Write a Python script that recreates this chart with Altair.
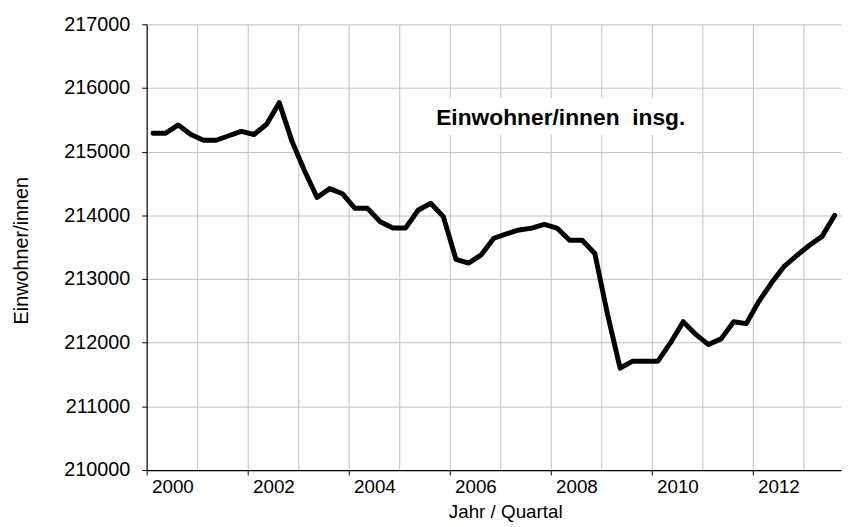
import altair as alt
import pandas as pd

# ---- data ----
n_quarters = 55  # 2000 Q1 .. 2013 Q3
years = [2000 + i // 4 for i in range(n_quarters)]
quarters = [i % 4 + 1 for i in range(n_quarters)]
einwohner = [
    215290, 215290, 215420, 215270, 215180, 215180, 215250, 215320,
    215270, 215430, 215770, 215170, 214700, 214280, 214420, 214340,
    214110, 214110, 213900, 213800, 213800, 214080, 214190, 213980,
    213310, 213250, 213380, 213640, 213710, 213770, 213800, 213860,
    213800, 213610, 213610, 213400, 212450, 211600, 211710, 211710,
    211710, 212000, 212330, 212130, 211970, 212060, 212330, 212300,
    212650, 212940, 213200, 213370, 213530, 213670, 214000,
]
y_ticks = [210000, 211000, 212000, 213000, 214000, 215000, 216000, 217000]
label_years = [2000, 2002, 2004, 2006, 2008, 2010, 2012]
grid_years = list(range(2001, 2014))

annotation_text = ["Einwohner/innen\u00a0 insg."]
annotation_pos = [32.8]        # in quarter units
annotation_val = [215530]
box_x = [22.3, 43.3]
box_y = [215263, 215843]

df = pd.DataFrame({"Jahr": years, "Quartal": quarters, "Einwohner": einwohner})
df["pos"] = (df["Jahr"] - 2000) * 4 + df["Quartal"] - 0.5

ann = pd.DataFrame({"text": annotation_text, "pos": annotation_pos, "val": annotation_val})
box = pd.DataFrame({"x0": [box_x[0]], "x1": [box_x[1]], "y0": [box_y[0]], "y1": [box_y[1]]})

FONT = "Liberation Sans"
xs = alt.Scale(domain=[0, n_quarters], nice=False, zero=False)
ys = alt.Scale(domain=[y_ticks[0], y_ticks[-1]], nice=False, zero=False)

grid_layer = alt.Chart(box).mark_rect(color="white").encode(
    x=alt.X("x0:Q", scale=xs, axis=alt.Axis(
        orient="bottom", values=[(y - 2000) * 4 for y in grid_years],
        grid=True, gridColor="#c0c0c0", gridWidth=1,
        labels=False, ticks=False, domain=False, title=None)),
    x2="x1:Q",
    y=alt.Y("y0:Q", scale=ys, axis=None),
    y2="y1:Q",
)

text_layer = alt.Chart(ann).mark_text(
    font=FONT, fontSize=23, fontWeight="bold", color="black",
    align="center", baseline="middle",
).encode(
    x=alt.X("pos:Q", scale=xs, axis=None),
    y=alt.Y("val:Q", scale=ys, axis=None),
    text="text:N",
)

line_layer = alt.Chart(df).mark_line(
    color="black", strokeWidth=5, strokeJoin="round", strokeCap="round"
).encode(
    x=alt.X("pos:Q", scale=xs, axis=alt.Axis(
        orient="bottom", values=[(y - 2000) * 4 for y in label_years],
        labelExpr="'' + (2000 + datum.value / 4)",
        grid=False, ticks=True, tickSize=5, tickColor="black", tickWidth=1,
        domain=True, domainColor="black", domainWidth=1.2,
        labelFont=FONT, labelFontSize=19, labelColor="black",
        labelAlign="center", labelOffset=26, labelPadding=3,
        title="Jahr / Quartal", titleFont=FONT, titleFontSize=19,
        titleFontWeight="normal", titleColor="black",
        titleX=362, titleY=42, titleAlign="center", titleBaseline="middle")),
    y=alt.Y("Einwohner:Q", scale=ys, axis=alt.Axis(
        orient="left", values=y_ticks, format="d",
        grid=True, gridColor="#c0c0c0", gridWidth=1,
        ticks=True, tickSize=5, tickColor="black", tickWidth=1,
        domain=True, domainColor="black", domainWidth=1.2,
        labelFont=FONT, labelFontSize=20, labelColor="black", labelPadding=12,
        title="Einwohner/innen", titleFont=FONT, titleFontSize=20,
        titleFontWeight="normal", titleColor="black",
        titleAngle=270, titleX=-126, titleY=228,
        titleAlign="center", titleBaseline="middle")),
)

chart = alt.layer(grid_layer, text_layer, line_layer).resolve_axis(
    x="independent", y="independent"
).properties(
    width=701, height=450,
    padding={"left": 140, "top": 14, "right": 1, "bottom": 53},
    autosize=alt.AutoSizeParams(type="none"),
    background="white",
).configure_view(stroke=None)

chart.save("out.html", embed_options={"renderer": "svg", "actions": False})
